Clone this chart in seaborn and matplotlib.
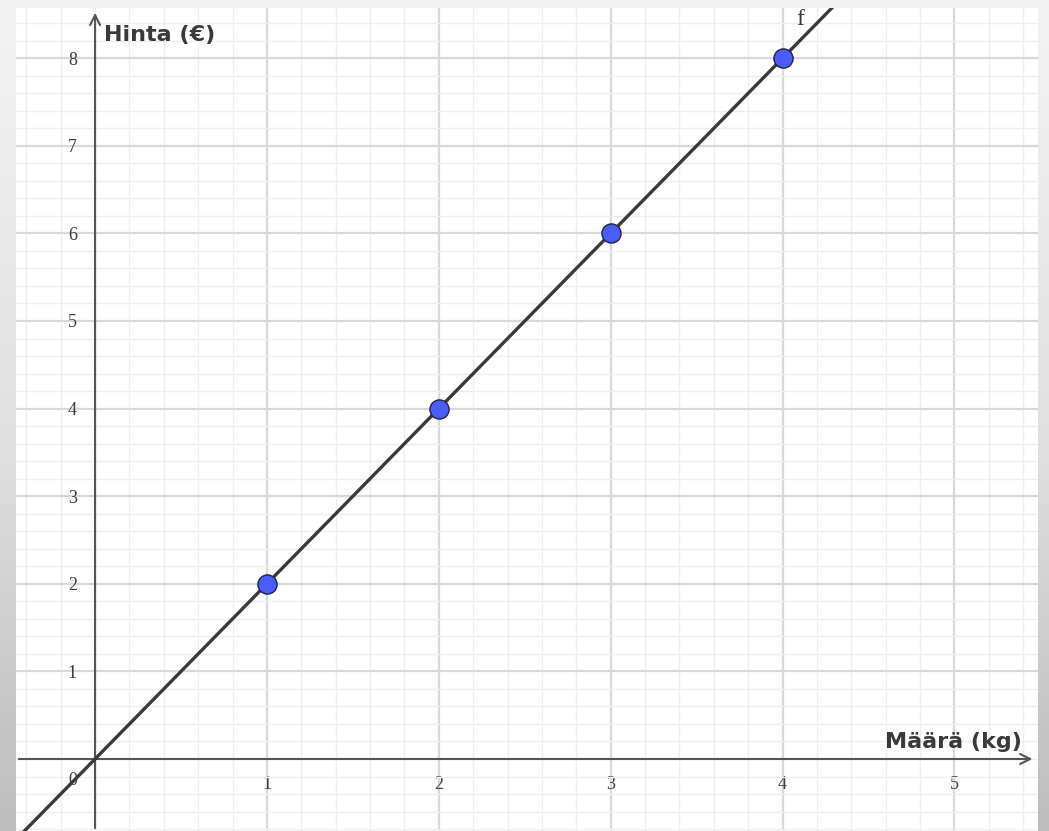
import numpy as np
import pandas as pd
import matplotlib.pyplot as plt
import seaborn as sns
from matplotlib.colors import LinearSegmentedColormap
from matplotlib.ticker import MultipleLocator, FixedLocator

sns.set_style("white")

# --------- Data ----------
amount_kg = [1, 2, 3, 4]
price_eur = [2, 4, 6, 8]
# f(x) = 2x, drawn across the view
line_x = [-0.6, 4.6]
line_y = [-1.2, 9.2]
x_ticks = [1, 2, 3, 4, 5]
y_ticks = [1, 2, 3, 4, 5, 6, 7, 8]

points = pd.DataFrame({"kg": amount_kg, "eur": price_eur})
line = pd.DataFrame({"kg": line_x, "eur": line_y})

fig = plt.figure(figsize=(10.49, 8.31), dpi=100)

# grey gradient backdrop
bg = fig.add_axes([0, 0, 1, 1])
grad = np.linspace(0, 1, 256).reshape(-1, 1)
bg_cmap = LinearSegmentedColormap.from_list("bg", ["#f3f3f3", "#e2e2e2", "#bdbdbd"])
bg.imshow(grad, aspect="auto", cmap=bg_cmap, extent=[0, 1, 0, 1], origin="upper")
bg.axis("off")

ax = fig.add_axes([16 / 1049, 0, 1022 / 1049, 823 / 831])
ax.set_facecolor("white")
ax.set_xlim(-0.46, 5.486)
ax.set_ylim(-0.822, 8.573)

# grid: minor every 0.2, major every 1
ax.xaxis.set_major_locator(FixedLocator(x_ticks))
ax.yaxis.set_major_locator(FixedLocator(y_ticks))
ax.xaxis.set_minor_locator(MultipleLocator(0.2))
ax.yaxis.set_minor_locator(MultipleLocator(0.2))
ax.grid(which="minor", color="#efefef", linewidth=1.0)
ax.grid(which="major", color="#d9d9d9", linewidth=1.6)
ax.set_axisbelow(True)

for s in ax.spines.values():
    s.set_visible(False)
ax.spines["left"].set_position(("data", 0))
ax.spines["bottom"].set_position(("data", 0))
ax.tick_params(which="both", length=0)
ax.tick_params(axis="x", pad=12)
ax.tick_params(axis="y", pad=13)
for lab in ax.get_xticklabels() + ax.get_yticklabels():
    lab.set_fontfamily("Liberation Serif")
    lab.set_fontsize(13)
    lab.set_color("#3c3c3c")
ax.text(-0.13, -0.25, "0", family="Liberation Serif", fontsize=13, color="#3c3c3c",
        ha="center", va="center")

# axes with arrows
arrow_kw = dict(arrowstyle="->", color="#555555", lw=1.5, mutation_scale=18)
ax.annotate("", xy=(5.47, 0), xytext=(-0.46, 0), arrowprops=arrow_kw, annotation_clip=False)
ax.annotate("", xy=(0, 8.55), xytext=(0, -0.822), arrowprops=arrow_kw, annotation_clip=False)

sns.lineplot(data=line, x="kg", y="eur", color="#3a3a3a", linewidth=2.4, ax=ax,
             legend=False, zorder=3)
sns.scatterplot(data=points, x="kg", y="eur", s=190, color="#4b5cff", edgecolor="#222244",
                linewidth=1.0, ax=ax, legend=False, zorder=4)

ax.set_xlabel("")
ax.set_ylabel("")
ax.text(0.05, 8.27, "Hinta (€)", family="DejaVu Sans", fontsize=16, fontweight="bold",
        color="#3a3a3a", ha="left", va="center")
ax.text(5.39, 0.19, "Määrä (kg)", family="DejaVu Sans", fontsize=16, fontweight="bold",
        color="#3a3a3a", ha="right", va="center")
ax.text(4.1, 8.44, "f", family="Liberation Serif", fontsize=17, color="#333333",
        ha="center", va="center")

fig.savefig("out.png", dpi=100, facecolor=fig.get_facecolor())
